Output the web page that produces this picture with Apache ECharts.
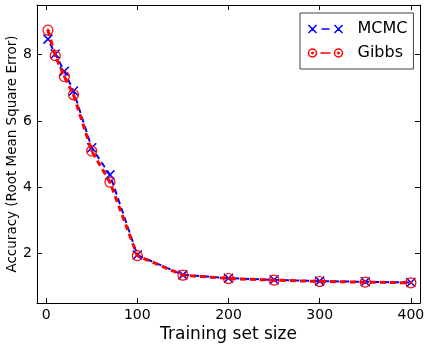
<!DOCTYPE html>
<html>
<head>
<meta charset="utf-8">
<script src="https://cdn.jsdelivr.net/npm/echarts@6/dist/echarts.min.js"></script>
<style>
  html, body { margin: 0; padding: 0; background: #fff; }
  #chart { width: 427px; height: 345px; }
</style>
</head>
<body>
<div id="chart"></div>
<script>
// training set sizes
const sizes = [2, 10, 20, 30, 50, 70, 100, 150, 200, 250, 300, 350, 400];
// RMSE per method
const mcmc = [8.47, 8.02, 7.5, 6.9, 5.19, 4.37, 1.95, 1.35, 1.25, 1.2, 1.16, 1.14, 1.12];
const gibbs = [8.74, 7.97, 7.34, 6.79, 5.09, 4.15, 1.93, 1.34, 1.24, 1.19, 1.15, 1.13, 1.11];
const xTicks = [0, 100, 200, 300, 400];
const yTicks = [2, 4, 6, 8];

const font = 'DejaVu Sans';
const xIcon = 'path://M0,0L10,10M10,0L0,10';
const oIcon = 'path://M10,5A5,5 0 1,1 10,4.99Z M5.8,5A0.8,0.8 0 1,1 5.8,4.99Z';
const legendX = 'path://M0,3L8,11M8,3L0,11M13,7L21,7M26,3L34,11M34,3L26,11';
const legendO = 'path://M8,7A4,4 0 1,1 8,6.99Z M4.8,7A0.8,0.8 0 1,1 4.8,6.99Z M12,7L22,7 M34,7A4,4 0 1,1 34,6.99Z M30.8,7A0.8,0.8 0 1,1 30.8,6.99Z';

const pairs = (ys) => sizes.map((x, i) => [x, ys[i]]);

const chart = echarts.init(document.getElementById('chart'));

const axisBase = {
  type: 'value',
  axisLine: { show: true, onZero: false, lineStyle: { color: '#000', width: 1 } },
  splitLine: { show: false },
};

chart.setOption({
  animation: false,
  backgroundColor: '#fff',
  grid: { left: 37, right: 7, top: 5, bottom: 42, outerBoundsMode: 'none', containLabel: false },
  xAxis: [
    {
      ...axisBase,
      min: -10, max: 410,
      name: 'Training set size',
      nameLocation: 'middle',
      nameGap: 23,
      nameMoveOverlap: false,
      nameTextStyle: { fontFamily: font, fontSize: 17, color: '#000' },
      axisTick: { inside: true, length: 5, customValues: xTicks, lineStyle: { color: '#000' } },
      axisLabel: { customValues: xTicks, fontFamily: font, fontSize: 14, color: '#000', margin: 5 },
    },
    {
      ...axisBase,
      position: 'top',
      min: -10, max: 410,
      axisTick: { inside: true, length: 5, customValues: xTicks, lineStyle: { color: '#000' } },
      axisLabel: { show: false },
    },
  ],
  yAxis: [
    {
      ...axisBase,
      min: 0.5, max: 9.5,
      name: 'Accuracy (Root Mean Square Error)',
      nameLocation: 'middle',
      nameGap: 18,
      nameMoveOverlap: false,
      nameTextStyle: { fontFamily: font, fontSize: 13.5, color: '#000' },
      axisTick: { inside: true, length: 5, customValues: yTicks, lineStyle: { color: '#000' } },
      axisLabel: { customValues: yTicks, fontFamily: font, fontSize: 14, color: '#000', margin: 5 },
    },
    {
      ...axisBase,
      position: 'right',
      min: 0.5, max: 9.5,
      axisTick: { inside: true, length: 5, customValues: yTicks, lineStyle: { color: '#000' } },
      axisLabel: { show: false },
    },
  ],
  legend: {
    left: 300,
    top: 13,
    orient: 'vertical',
    backgroundColor: '#fff',
    borderColor: '#444',
    borderWidth: 1,
    borderRadius: 0,
    padding: [8, 6, 8, 6],
    itemWidth: 34,
    itemHeight: 14,
    itemGap: 8,
    textStyle: { fontFamily: font, fontSize: 16, color: '#000', padding: [0, 0, 0, 10] },
    data: [
      { name: 'MCMC', icon: legendX, itemStyle: { color: 'none', borderColor: '#0000ff', borderWidth: 1.5 } },
      { name: 'Gibbs', icon: legendO, itemStyle: { color: 'none', borderColor: '#ff0000', borderWidth: 1.5 } },
    ],
  },
  series: [
    {
      name: 'MCMC',
      type: 'line',
      data: pairs(mcmc),
      symbol: xIcon,
      symbolSize: 9,
      itemStyle: { color: 'none', borderColor: '#0000ff', borderWidth: 1.5 },
      lineStyle: { color: '#0000ff', width: 2, type: [6, 4], dashOffset: 5 },
      z: 2,
    },
    {
      name: 'Gibbs',
      type: 'line',
      data: pairs(gibbs),
      symbol: oIcon,
      symbolSize: 10,
      itemStyle: { color: 'none', borderColor: '#ff0000', borderWidth: 1.2 },
      lineStyle: { color: '#ff0000', width: 3, type: [6, 4] },
      z: 3,
    },
  ],
});
</script>
</body>
</html>
